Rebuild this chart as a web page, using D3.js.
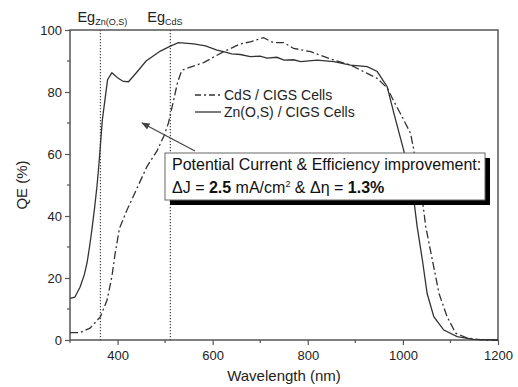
<!DOCTYPE html>
<html>
<head>
<meta charset="utf-8">
<script src="https://cdn.jsdelivr.net/npm/d3@7"></script>
<style>
  body { margin: 0; background: #fff; }
  svg { font-family: "Liberation Sans", Arial, sans-serif; }
</style>
</head>
<body>
<div id="chart"></div>
<script>
// Wavelength (nm) and QE (%)
const znsWl = [300, 310, 321, 330, 336, 341, 346, 352, 357, 361, 364, 368, 374, 379, 388, 400, 412, 423, 440, 460, 490, 511, 528, 560, 585, 609, 623, 640, 658, 679, 700, 714, 735, 750, 770, 785, 820, 855, 890, 925, 946, 967, 981, 992, 1002, 1012, 1023, 1030, 1041, 1051, 1065, 1086, 1114, 1149, 1200];
const znsQE = [13.4, 13.8, 17, 21, 25, 30, 35.5, 43, 50, 57, 63, 71, 78, 84, 86.2, 84.6, 83.4, 83.3, 86.3, 90, 93.2, 94.8, 95.9, 95.5, 94.9, 93.5, 93, 92.3, 92.1, 91.4, 91.6, 90.9, 91.2, 90.3, 90.4, 89.8, 90.3, 89.8, 88.7, 88.2, 86.6, 81.7, 73.2, 66.8, 61, 54, 45.2, 36.6, 25.8, 15, 7.5, 3.2, 1.1, 0.2, 0];

const cdsWl = [300, 321, 342, 364, 378, 388, 395, 404, 420, 441, 462, 483, 498, 507, 518, 526, 535, 558, 581, 623, 658, 679, 707, 728, 750, 770, 806, 855, 890, 925, 946, 967, 981, 995, 1016, 1023, 1030, 1041, 1048, 1062, 1076, 1093, 1111, 1136, 1170, 1200];
const cdsQE = [2.4, 2.4, 3.8, 7.5, 12.9, 20.4, 28, 36, 42, 49, 56, 61, 66, 70, 77.4, 83, 87, 88.3, 89.5, 93, 95.5, 96.2, 97.5, 95.9, 95.9, 94.1, 93, 90.3, 88.7, 86, 84.4, 81.3, 77, 73, 66.7, 61.3, 52, 45.2, 36.6, 25.8, 15, 7.5, 2.2, 0.6, 0, 0];

const egLines = [{label: "Zn(O,S)", wl: 364}, {label: "CdS", wl: 511}];
const xTicks = [400, 600, 800, 1000, 1200];
const yTicks = [0, 20, 40, 60, 80, 100];

const W = 518, H = 387;
const margin = {top: 30, right: 20, bottom: 47, left: 70};
const width = 498 - margin.left;
const height = 340 - margin.top;

const svg = d3.select("#chart").append("svg")
    .attr("width", W).attr("height", H);

const g = svg.append("g")
    .attr("transform", `translate(${margin.left},${margin.top})`);

const x = d3.scaleLinear().domain([300, 1200]).range([0, width]);
const y = d3.scaleLinear().domain([0, 100]).range([height, 0]);

const axisColor = "#555";
const lineColor = "#333";

// Frame
g.append("rect")
    .attr("width", width).attr("height", height)
    .attr("fill", "none").attr("stroke", axisColor).attr("stroke-width", 1.5);

// Eg dotted lines
g.selectAll(".eg").data(egLines).enter().append("line")
    .attr("x1", d => x(d.wl)).attr("x2", d => x(d.wl))
    .attr("y1", 0).attr("y2", height)
    .attr("stroke", "#444").attr("stroke-width", 1.2)
    .attr("stroke-dasharray", "1.2,1.8");

const egText = g.selectAll(".egt").data(egLines).enter().append("text")
    .attr("x", d => x(d.wl) - 23)
    .attr("y", -8)
    .attr("fill", "#222")
    .style("font-size", "14.5px");
egText.append("tspan").text("Eg");
egText.append("tspan").attr("dy", 3).style("font-size", "9px").text(d => d.label);

// Axes
const xAxis = g.append("g")
    .attr("transform", `translate(0,${height})`)
    .call(d3.axisBottom(x).tickValues(xTicks).tickFormat(d3.format("d")).tickSize(5).tickPadding(6));
const yAxis = g.append("g")
    .call(d3.axisLeft(y).tickValues(yTicks).tickFormat(d3.format("d")).tickSize(5).tickPadding(3));
[xAxis, yAxis].forEach(a => {
    a.select(".domain").remove();
    a.selectAll("line").attr("stroke", axisColor).attr("stroke-width", 1.2);
    a.selectAll("text").attr("fill", "#222").style("font-size", "13px")
        .style("font-family", "Liberation Sans, Arial, sans-serif");
});

// Minor ticks
g.selectAll(".xm").data([300, 500, 700, 900, 1100]).enter().append("line")
    .attr("x1", d => x(d)).attr("x2", d => x(d))
    .attr("y1", height).attr("y2", height + 3)
    .attr("stroke", axisColor).attr("stroke-width", 1.2);
g.selectAll(".ym").data([10, 30, 50, 70, 90]).enter().append("line")
    .attr("x1", 0).attr("x2", -3)
    .attr("y1", d => y(d)).attr("y2", d => y(d))
    .attr("stroke", axisColor).attr("stroke-width", 1.2);

// Curves
const line = d3.line().x(d => x(d[0])).y(d => y(d[1])).curve(d3.curveLinear);
g.append("path")
    .datum(znsWl.map((w, i) => [w, znsQE[i]]))
    .attr("d", line)
    .attr("fill", "none").attr("stroke", lineColor).attr("stroke-width", 1.3);
g.append("path")
    .datum(cdsWl.map((w, i) => [w, cdsQE[i]]))
    .attr("d", line)
    .attr("fill", "none").attr("stroke", lineColor).attr("stroke-width", 1.3)
    .attr("stroke-dasharray", "8,3,2,3");

// Legend
const legend = g.append("g").attr("transform", "translate(125,65)");
const legItems = [
    {label: "CdS / CIGS Cells", dash: "6,3,2,3"},
    {label: "Zn(O,S) / CIGS Cells", dash: null}
];
legItems.forEach((d, i) => {
    legend.append("line")
        .attr("x1", 0).attr("x2", 26)
        .attr("y1", i * 17).attr("y2", i * 17)
        .attr("stroke", lineColor).attr("stroke-width", 1.3)
        .attr("stroke-dasharray", d.dash);
    legend.append("text")
        .attr("x", 29).attr("y", i * 17 + 5)
        .attr("fill", "#222")
        .style("font-size", "14px")
        .text(d.label);
});

// Arrow
svg.append("defs").append("marker")
    .attr("id", "arr").attr("viewBox", "0 0 10 10")
    .attr("refX", 9).attr("refY", 5)
    .attr("markerWidth", 7).attr("markerHeight", 7)
    .attr("orient", "auto")
    .append("path").attr("d", "M0,1 L10,5 L0,9 Z").attr("fill", "#444");
svg.append("line")
    .attr("x1", 195).attr("y1", 151).attr("x2", 142).attr("y2", 123)
    .attr("stroke", "#444").attr("stroke-width", 1.2)
    .attr("marker-end", "url(#arr)");

// Annotation box with shadow
svg.append("rect")
    .attr("x", 170).attr("y", 158).attr("width", 320).attr("height", 47)
    .attr("fill", "#000");
svg.append("rect")
    .attr("x", 165).attr("y", 153).attr("width", 320).attr("height", 47)
    .attr("fill", "#fff").attr("stroke", "#666").attr("stroke-width", 1);

svg.append("text")
    .attr("x", 172).attr("y", 170)
    .attr("fill", "#111").style("font-size", "16px")
    .text("Potential Current & Efficiency improvement:");
const t2 = svg.append("text")
    .attr("x", 172).attr("y", 193)
    .attr("fill", "#111").style("font-size", "16px");
t2.append("tspan").text("\u0394J = ");
t2.append("tspan").style("font-weight", "bold").text("2.5");
t2.append("tspan").text(" mA/cm");
t2.append("tspan").attr("dy", -6).style("font-size", "9px").text("2");
t2.append("tspan").attr("dy", 6).text(" & \u0394\u03b7 = ");
t2.append("tspan").style("font-weight", "bold").text("1.3%");

// Axis labels
svg.append("text")
    .attr("x", 284).attr("y", 381)
    .attr("text-anchor", "middle").attr("fill", "#222")
    .style("font-size", "15px")
    .text("Wavelength (nm)");
svg.append("text")
    .attr("transform", "translate(27,185) rotate(-90)")
    .attr("text-anchor", "middle").attr("fill", "#222")
    .style("font-size", "15px")
    .text("QE (%)");
</script>
</body>
</html>
